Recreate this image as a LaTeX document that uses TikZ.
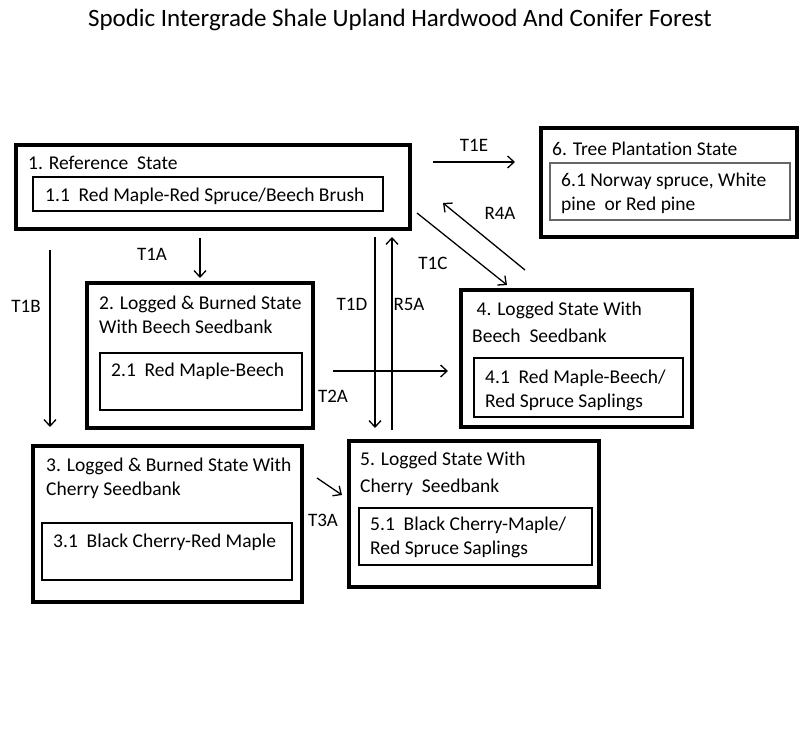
\documentclass[tikz,border=0pt]{standalone}
\usepackage{fontspec}
\setmainfont{Carlito}[Ligatures=NoCommon]
\usetikzlibrary{arrows.meta, positioning}

\begin{document}
\begin{tikzpicture}[
    x=1pt, y=-1pt,
    outerbox/.style={draw, line width=3.2pt},
    innerbox/.style={draw, line width=1.3pt},
    txt/.style={anchor=base west, inner sep=0pt, align=left,
        font=\fontsize{19.5}{24}\selectfont},
    lbl/.style={inner sep=0pt, font=\fontsize{19}{22}\selectfont},
    arr/.style={-{Straight Barb[length=6.5pt,width=12pt]}, line width=1.3pt}
]
    \useasboundingbox (0,0) rectangle (800,749);
    \node[font=\fontsize{25}{28}\selectfont] (title) at (400,20)
        {Spodic Intergrade Shale Upland Hardwood And Conifer Forest};

    % states (multi-line texts sit on the baseline of their last line)
    \node[outerbox, minimum width=394, minimum height=84] (S1) at (213,187) {};
    \node[innerbox, minimum width=350, minimum height=34] (S1a) at (208,194) {};
    \node[txt] (S1t) at (28,169) {1. Reference\ \ State};
    \node[txt] (S1at) at (45,201) {1.1\ \ Red Maple-Red Spruce/Beech Brush};

    \node[outerbox, minimum width=256, minimum height=109] (S6) at (669,182.5) {};
    \node[innerbox, draw=black!60, minimum width=240, minimum height=57] (S6a) at (670,191.5) {};
    \node[txt] (S6t) at (552,155) {6. Tree Plantation State};
    \node[txt] (S6at) at (561,210) {6.1 Norway spruce, White\\pine\ \ or Red pine};

    \node[outerbox, minimum width=226, minimum height=145] (S2) at (200,355.5) {};
    \node[innerbox, minimum width=202, minimum height=57] (S2a) at (201,381.5) {};
    \node[txt] (S2t) at (99,333) {2. Logged \& Burned State\\With Beech Seedbank};
    \node[txt] (S2at) at (111,376) {2.1\ \ Red Maple-Beech};

    \node[outerbox, minimum width=231, minimum height=137] (S4) at (576.5,358.5) {};
    \node[innerbox, minimum width=209, minimum height=59] (S4a) at (578.5,387.5) {};
    \node[txt] (S4t) at (472,342) {\ 4. Logged State With\\[3pt]Beech\ \ Seedbank};
    \node[txt] (S4at) at (485,407) {4.1\ \ Red Maple-Beech/\\Red Spruce Saplings};

    \node[outerbox, minimum width=269, minimum height=156] (S3) at (167.5,524) {};
    \node[innerbox, minimum width=250, minimum height=57] (S3a) at (167,551.5) {};
    \node[txt] (S3t) at (46,495) {3. Logged \& Burned State With\\Cherry Seedbank};
    \node[txt] (S3at) at (53,547) {3.1\ \ Black Cherry-Red Maple};

    \node[outerbox, minimum width=250, minimum height=146] (S5) at (474,514) {};
    \node[innerbox, minimum width=233, minimum height=57] (S5a) at (475.5,536.5) {};
    \node[txt] (S5t) at (360,492) {5. Logged State With\\[3pt]Cherry\ \ Seedbank};
    \node[txt] (S5at) at (370,554) {5.1\ \ Black Cherry-Maple/\\Red Spruce Saplings};

    % transitions
    \coordinate (t1e-a) at (433,162);  \coordinate (t1e-b) at (515,162);
    \coordinate (r4a-a) at (525,270);  \coordinate (r4a-b) at (443,203);
    \coordinate (t1c-a) at (417,213);  \coordinate (t1c-b) at (507,285);
    \coordinate (t1a-a) at (200,238);  \coordinate (t1a-b) at (200,278);
    \coordinate (t1b-a) at (50,250);   \coordinate (t1b-b) at (50,427);
    \coordinate (t1d-a) at (375,237);  \coordinate (t1d-b) at (375,428);
    \coordinate (r5a-a) at (392,430);  \coordinate (r5a-b) at (392,237);
    \coordinate (t2a-a) at (333,371);  \coordinate (t2a-b) at (448,371);
    \coordinate (t3a-a) at (317,478);  \coordinate (t3a-b) at (342,495);

    \draw[arr] (t1e-a) -- (t1e-b);
    \draw[arr] (r4a-a) -- (r4a-b);
    \draw[arr] (t1c-a) -- (t1c-b);
    \draw[arr] (t1a-a) -- (t1a-b);
    \draw[arr] (t1b-a) -- (t1b-b);
    \draw[arr] (t1d-a) -- (t1d-b);
    \draw[arr] (r5a-a) -- (r5a-b);
    \draw[arr] (t2a-a) -- (t2a-b);
    \draw[arr] (t3a-a) -- (t3a-b);

    \node[lbl] (l-t1e) at (474,145) {T1E};
    \node[lbl] (l-r4a) at (500,213) {R4A};
    \node[lbl] (l-t1c) at (433,263) {T1C};
    \node[lbl] (l-t1a) at (152,254) {T1A};
    \node[lbl] (l-t1b) at (26,306) {T1B};
    \node[lbl] (l-t1d) at (352,304) {T1D};
    \node[lbl] (l-r5a) at (409,304) {R5A};
    \node[lbl] (l-t2a) at (333,396) {T2A};
    \node[lbl] (l-t3a) at (323,520) {T3A};
\end{tikzpicture}
\end{document}
